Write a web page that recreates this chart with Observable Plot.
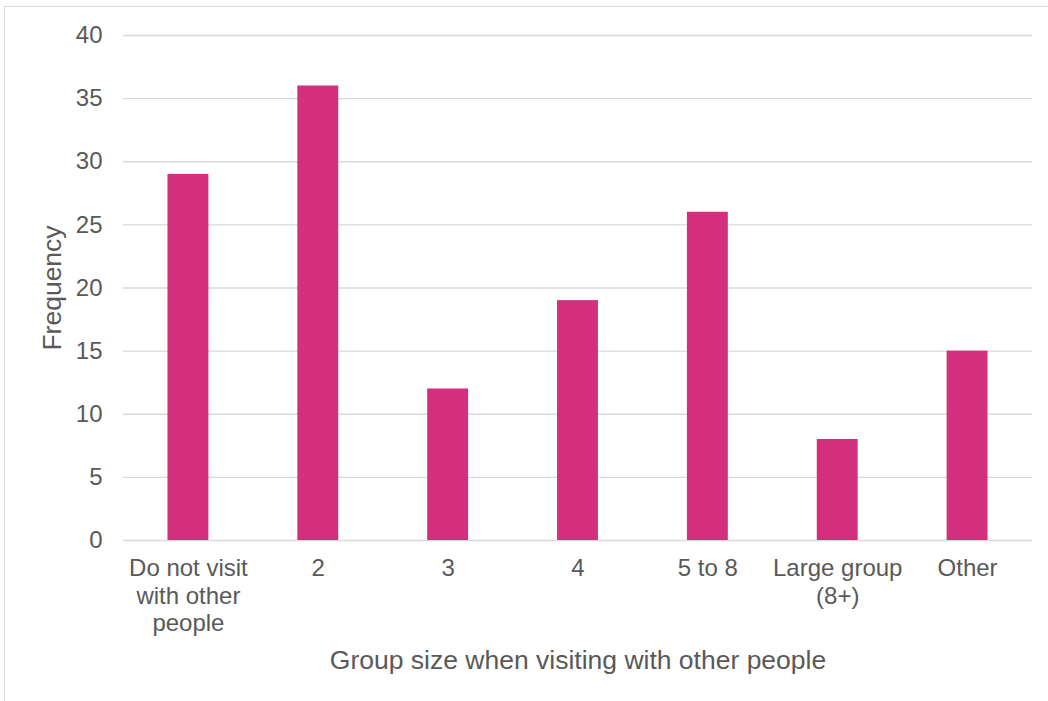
<!DOCTYPE html>
<html>
<head>
<meta charset="utf-8">
<script src="https://cdn.jsdelivr.net/npm/d3@7"></script>
<script src="https://cdn.jsdelivr.net/npm/@observablehq/plot@0.6"></script>
<style>
  html, body { margin: 0; padding: 0; background: #fff; overflow: hidden; }
  #wrap { position: relative; width: 1048px; height: 701px; }
  #border { position: absolute; left: 4px; top: 6px; width: 1100px; height: 1000px; border: 1px solid #d9d9d9; box-sizing: border-box; pointer-events: none; }
  #chart { position: absolute; left: 0; top: 0; }
</style>
</head>
<body>
<div id="wrap">
  <div id="border"></div>
  <div id="chart"></div>
</div>
<script>
const categories = ["Do not visit\nwith other\npeople", "2", "3", "4", "5 to 8", "Large group\n(8+)", "Other"];
const frequencies = [29, 36, 12, 19, 26, 8, 15];
const yTicks = [0, 5, 10, 15, 20, 25, 30, 35, 40];
const yTitle = "Frequency";
const xTitle = "Group size when visiting with other people";

const data = categories.map((c, i) => ({cat: c, value: frequencies[i]}));

const chart = Plot.plot({
  width: 1048,
  height: 701,
  marginTop: 35,
  marginBottom: 161,
  marginLeft: 123,
  marginRight: 16,
  style: {fontFamily: "'Liberation Sans', Arial, sans-serif", color: "#595959", background: "transparent"},
  x: {domain: categories, paddingInner: 0.685, paddingOuter: 0.3425, round: false, label: null},
  y: {domain: [0, 40], label: null},
  marks: [
    Plot.gridY(yTicks, {stroke: "#d9d9d9", strokeOpacity: 1, strokeWidth: 1.3}),
    Plot.barY(data, {x: "cat", y: "value", fill: "#d42f7c"}),
    Plot.axisY(yTicks, {tickSize: 0, tickPadding: 21, fontSize: 24, label: null}),
    Plot.axisX({tickSize: 0, tickPadding: 16, fontSize: 24, lineHeight: 1.15, label: null}),
    Plot.text([yTitle], {frameAnchor: "left", dx: -63, rotate: -90, textAnchor: "middle", lineAnchor: "bottom", fontSize: 26.5, fill: "#595959"}),
    Plot.text([xTitle], {frameAnchor: "bottom", dy: 128, textAnchor: "middle", lineAnchor: "bottom", fontSize: 26.5, fill: "#595959"})
  ]
});
document.getElementById("chart").appendChild(chart);
</script>
</body>
</html>
